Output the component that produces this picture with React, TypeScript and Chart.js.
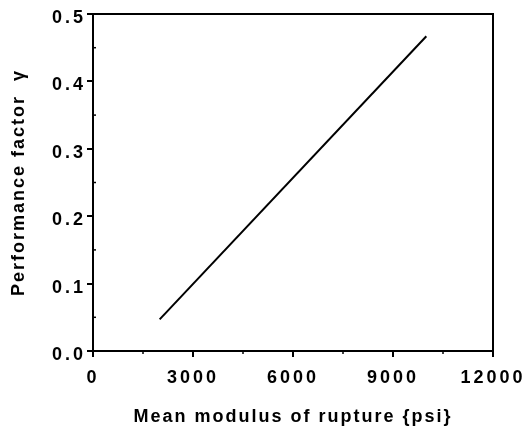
import React, { useEffect, useRef } from "react";
import { Chart, registerables } from "chart.js";

Chart.register(...registerables);

const modulusPsi = [2000, 10000];
const performanceFactor = [0.047, 0.467];
const xTicks = [0, 3000, 6000, 9000, 12000];
const yTicks = [0.0, 0.1, 0.2, 0.3, 0.4, 0.5];
const xTitle = "Mean modulus of rupture {psi}";
const yTitle = "Performance factor  \u03b3";

const FONT = "'Liberation Sans', Arial, Helvetica, sans-serif";

const wrapSpacing = (scale: any) => {
  if (scale.__wrapped) return;
  scale.__wrapped = true;
  const dl = scale.drawLabels.bind(scale);
  const dt = scale.drawTitle.bind(scale);
  scale.drawLabels = (...a: any[]) => {
    const ctx = scale.ctx;
    const prev = ctx.letterSpacing;
    ctx.letterSpacing = "3px";
    dl(...a);
    ctx.letterSpacing = prev || "0px";
  };
  scale.drawTitle = (...a: any[]) => {
    const ctx = scale.ctx;
    const prev = ctx.letterSpacing;
    ctx.letterSpacing = "2px";
    dt(...a);
    ctx.letterSpacing = prev || "0px";
  };
};

const framePlugin = {
  id: "frame",
  beforeDraw(chart: any) {
    Object.values(chart.scales).forEach((s: any) => wrapSpacing(s));
  },
  afterDraw(chart: any) {
    const { ctx, chartArea, scales } = chart;
    ctx.save();
    ctx.strokeStyle = "#000";
    ctx.lineWidth = 2;
    ctx.strokeRect(chartArea.left, chartArea.top, chartArea.right - chartArea.left, chartArea.bottom - chartArea.top);
    ctx.lineWidth = 1.5;
    const xs = scales.x;
    for (let i = 0; i < xTicks.length - 1; i++) {
      const v = (xTicks[i] + xTicks[i + 1]) / 2;
      const px = xs.getPixelForValue(v);
      ctx.beginPath();
      ctx.moveTo(px, chartArea.bottom);
      ctx.lineTo(px, chartArea.bottom + 3);
      ctx.stroke();
    }
    const ys = scales.y;
    for (let i = 0; i < yTicks.length - 1; i++) {
      const v = (yTicks[i] + yTicks[i + 1]) / 2;
      const py = ys.getPixelForValue(v);
      ctx.beginPath();
      ctx.moveTo(chartArea.left, py);
      ctx.lineTo(chartArea.left + 3, py);
      ctx.stroke();
    }
    ctx.restore();
  },
};

export default function App() {
  const ref = useRef<HTMLCanvasElement>(null);
  useEffect(() => {
    const chart = new Chart(ref.current!, {
      type: "scatter",
      data: {
        datasets: [
          {
            data: modulusPsi.map((x, i) => ({ x, y: performanceFactor[i] })),
            showLine: true,
            borderColor: "#000",
            borderWidth: 2,
            pointRadius: 0,
          },
        ],
      },
      options: {
        animation: false,
        responsive: false,
        devicePixelRatio: 1,
        layout: { padding: { left: 0, right: 39, top: 14, bottom: 0 } },
        plugins: { legend: { display: false }, tooltip: { enabled: false } },
        scales: {
          x: {
            type: "linear",
            min: 0,
            max: 12000,
            afterBuildTicks: (s: any) => { s.ticks = xTicks.map((v) => ({ value: v })); },
            afterFit: (s: any) => { s.height = 77; },
            border: { display: true, color: "#000", width: 2 },
            grid: { drawOnChartArea: false, color: "#000", tickLength: 6, lineWidth: 2 },
            ticks: {
              color: "#000",
              font: { family: FONT, size: 18, weight: "bold" },
              padding: 10,
              maxRotation: 0,
              callback: (v: any) => String(v),
            },
            title: {
              display: true,
              text: xTitle,
              color: "#000",
              font: { family: FONT, size: 18, weight: "bold" },
              padding: { top: 2, bottom: 0 },
            },
          },
          y: {
            type: "linear",
            min: 0,
            max: 0.5,
            afterBuildTicks: (s: any) => { s.ticks = yTicks.map((v) => ({ value: v })); },
            afterFit: (s: any) => { s.width = 93; },
            border: { display: true, color: "#000", width: 2 },
            grid: { drawOnChartArea: false, color: "#000", tickLength: 6, lineWidth: 2 },
            ticks: {
              color: "#000",
              font: { family: FONT, size: 18, weight: "bold" },
              padding: 1,
              labelOffset: 4,
              callback: (v: any) => Number(v).toFixed(1),
            },
            title: {
              display: true,
              text: yTitle,
              color: "#000",
              font: { family: FONT, size: 18, weight: "bold" },
              padding: { top: 8, bottom: 4 },
            },
          },
        },
      },
      plugins: [framePlugin],
    } as any);
    return () => chart.destroy();
  }, []);
  return (
    <div style={{ position: "fixed", left: 0, top: 0, width: 532, height: 428, background: "#fff" }}>
      <canvas ref={ref} width={532} height={428} />
    </div>
  );
}
